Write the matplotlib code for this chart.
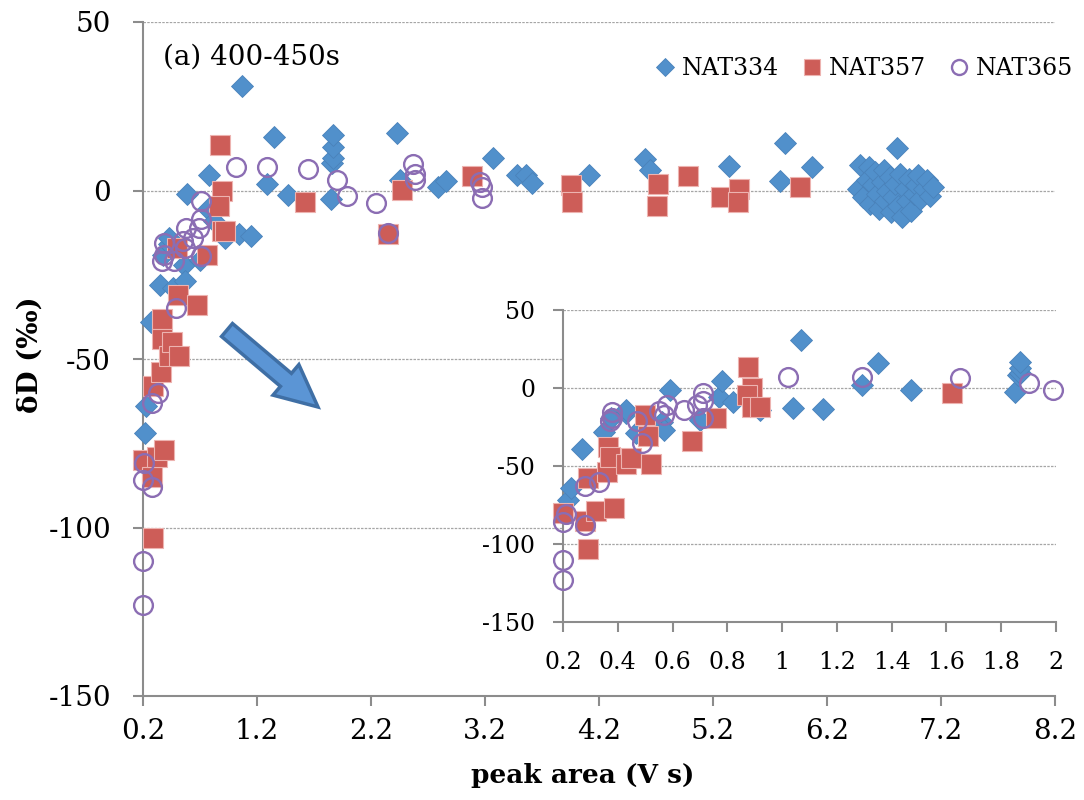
import numpy as np
import matplotlib
matplotlib.use("Agg")
import matplotlib.pyplot as plt
from matplotlib.patches import FancyArrow
from matplotlib.transforms import IdentityTransform

plt.rcParams['font.family'] = ['DejaVu Serif', 'DejaVu Sans']
plt.rcParams['axes.unicode_minus'] = False

# NAT334 (diamonds)
nat334_x = [0.22, 0.23, 0.27, 0.35, 0.375, 0.43, 0.43, 0.465, 0.56, 0.57, 0.59, 0.70,
            0.77, 0.78, 0.82, 0.92, 1.04, 1.07, 1.15, 1.29, 1.35, 1.47, 1.85, 1.86, 1.87,
            1.87, 1.87, 2.45, 2.43, 2.79, 2.86, 3.27, 3.48, 3.56, 3.61, 4.11, 4.60, 4.65,
            5.34, 5.79, 5.83, 6.07, 6.49, 6.57, 6.81,
            6.47, 6.52, 6.55, 6.58, 6.60, 6.62, 6.64, 6.66, 6.68, 6.70, 6.71, 6.73, 6.75,
            6.76, 6.78, 6.80, 6.82, 6.84, 6.86, 6.88, 6.90, 6.92, 6.94, 6.96, 6.98, 7.00,
            7.02, 7.05, 7.08, 7.10, 7.13]
nat334_y = [-72, -64, -39, -28, -19, -16, -14, -29, -22, -27, -1, -20.5,
            -5.5, 4.5, -9, -14, -13, 31, -13.5, 2, 15.8, -1.3, -2.5, 8.3, 9.7,
            12.8, 16.5, 3, 17, 1, 2.7, 9.6, 4.7, 4.7, 2.2, 4.5, 9.4, 6,
            7.4, 2.7, 14, 6.9, 7.6, 6.9, 12.6,
            0.5, -2.0, 3.0, -4.0, 1.5, 5.5, -1.0, -5.5, 2.5, 6.0, -3.0, 0.0, 4.0,
            -6.5, -2.0, 2.0, -4.5, 5.0, -8.0, 0.5, -3.0, 3.5, -6.0, -1.0, 1.5, 4.5,
            -2.5, 0.5, 3.0, -1.5, 1.0]

# NAT357 (squares)
nat357_x = [0.20, 0.29, 0.28, 0.32, 0.385, 0.29, 0.36, 0.365, 0.37, 0.43, 0.45, 0.52,
            0.50, 0.51, 0.67, 0.76, 0.875, 0.89, 0.87, 0.89, 0.92, 1.62,
            2.35, 2.47, 3.09, 3.95, 3.96, 4.72, 4.71, 4.98, 5.27, 5.43, 5.42, 5.96]
nat357_y = [-80, -103, -85, -79, -77, -58, -54, -38, -44, -49, -45, -49,
            -17, -31, -34, -19, 13.5, 0, -4.5, -12, -12, -3.5,
            -12.9, 0.2, 4.2, 1.5, -3.3, 2, -4.5, 4.2, -1.8, 0.5, -3.5, 1]

# NAT365 (open circles)
nat365_x = [0.20, 0.20, 0.20, 0.21, 0.28, 0.28, 0.33, 0.38, 0.38, 0.37, 0.47, 0.49,
            0.55, 0.58, 0.57, 0.64, 0.69, 0.71, 0.71, 0.71, 1.02, 1.29, 1.65, 1.90,
            1.99, 2.24, 2.35, 2.57, 2.59, 2.59, 3.16, 3.17, 3.17]
nat365_y = [-123, -110, -86, -81, -88, -63, -60, -15.5, -19, -21, -21, -35,
            -15, -11, -17, -14, -11, -3, -8.5, -19.5, 7, 7, 6.3, 3,
            -1.5, -3.7, -12.6, 7.9, 4.9, 3.2, 2.5, 1, -2.3]

main_xticks = [0.2, 1.2, 2.2, 3.2, 4.2, 5.2, 6.2, 7.2, 8.2]
inset_xticks = [0.2, 0.4, 0.6, 0.8, 1.0, 1.2, 1.4, 1.6, 1.8, 2.0]
inset_xlabels = ['0.2', '0.4', '0.6', '0.8', '1', '1.2', '1.4', '1.6', '1.8', '2']
yticks = [-150, -100, -50, 0, 50]

blue = '#5190CB'
red = '#CD5D58'
purple = '#8B6DB3'
grey = '#8C8C8C'

W, H = 1084, 800
fig = plt.figure(figsize=(W / 100, H / 100), dpi=100)


def px(l, t, r, b):
    return [l / W, 1 - b / H, (r - l) / W, (b - t) / H]


def style(ax, fs, xpad, ypad):
    for s in ['top', 'right']:
        ax.spines[s].set_visible(False)
    for s in ['left', 'bottom']:
        ax.spines[s].set_color(grey)
        ax.spines[s].set_linewidth(1.5)
    ax.tick_params(axis='both', colors=grey, labelcolor='black', labelsize=fs,
                   direction='out', length=7, width=1.5)
    ax.tick_params(axis='x', pad=xpad)
    ax.tick_params(axis='y', pad=ypad)
    ax.set_ylim(-150, 50)
    ax.set_yticks(yticks)
    ax.yaxis.grid(True, color='#A6A6A6', linestyle=(0, (2, 1)), linewidth=0.9)
    ax.set_axisbelow(True)


def draw(ax, xmax=None):
    def sel(x, y):
        x, y = np.array(x), np.array(y)
        if xmax is None:
            return x, y
        m = x <= xmax
        return x[m], y[m]
    x, y = sel(nat334_x, nat334_y)
    ax.plot(x, y, 'D', ms=11, mfc=blue, mec='#4A82BA', mew=0.6,
            clip_on=False, label='NAT334', zorder=3)
    x, y = sel(nat357_x, nat357_y)
    ax.plot(x, y, 's', ms=15, mfc=red, mec='#EDB3B0', mew=0.8,
            clip_on=False, label='NAT357', zorder=4)
    x, y = sel(nat365_x, nat365_y)
    ax.plot(x, y, 'o', ms=13.5, mfc='none', mec=purple, mew=1.7,
            clip_on=False, label='NAT365', zorder=5)


# main chart
ax = fig.add_axes(px(143, 22, 1055, 696))
style(ax, 20, 9, 16)
ax.set_xlim(0.2, 8.2)
ax.set_xticks(main_xticks)
ax.set_xticklabels([str(v) for v in main_xticks])
draw(ax)

fig.text(163 / W, 1 - 57 / H, '(a) 400-450s', fontsize=20, va='center', ha='left')
fig.text(583 / W, 1 - 775 / H, 'peak area (V s)', fontsize=19, fontweight='bold',
         ha='center', va='center')
fig.text(30 / W, 1 - 355 / H, 'δD (‰)', fontsize=20, fontweight='bold',
         rotation=90, ha='center', va='center')

leg = ax.legend(loc='upper right', bbox_to_anchor=(1094 / W, 1 - 36 / H),
                bbox_transform=fig.transFigure, ncol=3, frameon=False,
                fontsize=17, handlelength=0.8, handletextpad=0.3,
                columnspacing=1.0, markerscale=0.8)

# arrow
arr = FancyArrow(227, 470, 91, -77, width=17, head_width=40, head_length=42,
                 length_includes_head=True, fc='#5B95D5', ec='#3F6FA5', lw=2.5,
                 transform=IdentityTransform())
fig.add_artist(arr)

# inset
ins = fig.add_axes(px(563, 310, 1056, 622))
ins.set_zorder(5)
ins.set_facecolor('white')
style(ins, 17, 14, 13)
ins.set_xlim(0.2, 2.0)
ins.set_xticks(inset_xticks)
ins.set_xticklabels(inset_xlabels)
draw(ins, xmax=2.02)

fig.savefig('out.png', dpi=100)
